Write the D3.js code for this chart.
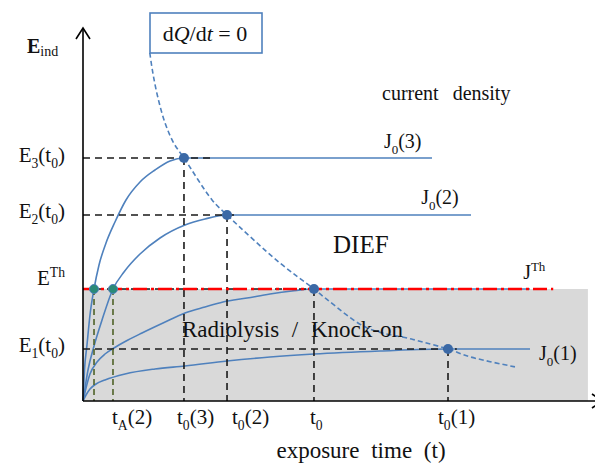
<!DOCTYPE html>
<html>
<head>
<meta charset="utf-8">
<script src="https://cdn.jsdelivr.net/npm/d3@7"></script>
<style>
  body { margin: 0; background: #fff; }
  svg { display: block; }
</style>
</head>
<body>
<div id="chart"></div>
<script>
// chart values (time and field in arbitrary units 0..100)
const eLevels = [65.5, 50.13, 30.19, 14.02];            // E3(t0), E2(t0), ETh, E1(t0)
const eLabels = ["E_{3}(t_{0})", "E_{2}(t_{0})", "E^{Th}", "E_{1}(t_{0})"];
const tTicks = [5.88, 19.8, 28.24, 45.29, 71.57];      // tA(2), t0(3), t0(2), t0, t0(1)
const tLabels = ["t_{A}(2)", "t_{0}(3)", "t_{0}(2)", "t_{0}", "t_{0}(1)"];
const eTh = 30.19;

// current density curves: [t, E]
const curveJ3 = [[0, 0], [0.29, 8.36], [0.78, 15.09], [1.37, 23.18], [2.16, 30.19], [3.14, 36.66], [4.51, 42.59], [6.27, 48.25], [8.43, 54.18], [11.18, 59.03], [14.12, 62.26], [17.06, 64.69], [19.8, 65.5], [68.43, 65.5]];
const curveJ2 = [[0, 0], [0.39, 3.5], [0.98, 8.36], [2.16, 14.82], [3.73, 21.83], [5.88, 30.19], [8.04, 34.77], [11.18, 39.62], [15.1, 43.94], [20.0, 47.44], [23.92, 49.06], [28.24, 50.13], [76.08, 50.13]];
const curveJTh = [[0, 0], [0.59, 3.5], [1.37, 7.28], [2.75, 10.51], [4.31, 12.67], [6.08, 14.29], [8.82, 16.44], [11.57, 18.33], [15.69, 21.02], [20.0, 23.72], [23.92, 25.34], [27.45, 26.68], [32.16, 27.76], [36.67, 28.84], [40.98, 29.65], [45.29, 30.19], [87.65, 30.19]];
const curveJ1 = [[0, 0], [0.59, 1.62], [1.37, 3.23], [2.55, 4.58], [4.31, 5.66], [8.24, 7.28], [14.12, 8.63], [20.0, 9.43], [28.24, 10.78], [36.67, 11.86], [45.29, 12.67], [58.24, 13.48], [71.57, 14.02], [87.65, 14.02]];
// dQ/dt = 0 locus
const curveDQ = [[13.1, 93.8], [13.7, 88.4], [14.7, 81.7], [16.1, 74.9], [17.8, 69.5], [19.8, 65.5], [25.3, 54.2], [28.24, 50.13], [38.6, 37.2], [45.29, 30.19], [48.0, 27.2], [55.7, 19.7], [64.7, 16.6], [71.57, 14.02], [75.9, 11.9], [84.7, 9.2]];

// intersection points
const blueDots = [[19.8, 65.5], [28.24, 50.13], [45.29, 30.19], [71.57, 14.02]];
const onsetDots = [[2.16, 30.19], [5.88, 30.19]];
// black guide lines: horizontal [tEnd, E], vertical [t, E]
const hGuides = [[25.7, 65.5], [30.2, 50.13], [45.29, 30.19], [73.3, 14.02]];
const vGuides = [[19.8, 65.5], [28.24, 50.13], [45.29, 30.19], [71.57, 14.02]];

const W = 595, H = 465;
const blue = "#4f81bd";
const serif = "Liberation Serif";

const x = d3.scaleLinear().domain([0, 100]).range([83, 593]);
const y = d3.scaleLinear().domain([0, 100]).range([401, 30]);

const svg = d3.select("#chart").append("svg")
  .attr("width", W).attr("height", H)
  .attr("font-family", serif);

// rich text: _{sub} and ^{sup}
function richText(t, str, size) {
  const parts = str.split(/(_\{[^}]*\}|\^\{[^}]*\})/).filter(s => s.length);
  let shift = 0;
  parts.forEach(p => {
    let fs = size, txt = p, target = 0;
    if (p.startsWith("_{")) { txt = p.slice(2, -1); fs = size * 0.65; target = size * 0.28; }
    else if (p.startsWith("^{")) { txt = p.slice(2, -1); fs = size * 0.65; target = -size * 0.4; }
    t.append("tspan").attr("font-size", fs).attr("dy", target - shift).text(txt);
    shift = target;
  });
}
function addText(x0, y0, size) {
  return svg.append("text").attr("x", x0).attr("y", y0)
    .attr("font-family", serif).attr("font-size", size).attr("fill", "#111");
}

// gray region below threshold
svg.append("rect")
  .attr("x", x(0)).attr("y", y(eTh))
  .attr("width", x(99) - x(0)).attr("height", y(0) - y(eTh))
  .attr("fill", "#d9d9d9");

// curves
const line = d3.line().x(d => x(d[0])).y(d => y(d[1])).curve(d3.curveMonotoneX);
[curveJ3, curveJ2, curveJTh, curveJ1].forEach(c => {
  svg.append("path").attr("d", line(c))
    .attr("fill", "none").attr("stroke", blue).attr("stroke-width", 1.6);
});

// black dashed guides
const guides = svg.append("g").attr("stroke", "#1a1a1a").attr("stroke-width", 1.6).attr("stroke-dasharray", "7,5");
hGuides.forEach(g => {
  guides.append("line").attr("x1", x(0)).attr("x2", x(g[0])).attr("y1", y(g[1])).attr("y2", y(g[1]));
});
vGuides.forEach(g => {
  guides.append("line").attr("x1", x(g[0])).attr("x2", x(g[0])).attr("y1", y(g[1])).attr("y2", y(0));
});
// onset guides (olive)
onsetDots.forEach(g => {
  svg.append("line").attr("x1", x(g[0])).attr("x2", x(g[0])).attr("y1", y(g[1])).attr("y2", y(0))
    .attr("stroke", "#4f6228").attr("stroke-width", 1.6).attr("stroke-dasharray", "6,4");
});

// dQ/dt = 0 locus
const dqLine = d3.line().x(d => x(d[0])).y(d => y(d[1])).curve(d3.curveCatmullRom);
svg.append("path").attr("d", dqLine(curveDQ))
  .attr("fill", "none").attr("stroke", blue).attr("stroke-width", 1.6).attr("stroke-dasharray", "5,3");

// threshold line (red dash-dot)
svg.append("line")
  .attr("x1", x(0)).attr("x2", x(92.2)).attr("y1", y(eTh)).attr("y2", y(eTh))
  .attr("stroke", "#ff0000").attr("stroke-width", 2.6).attr("stroke-dasharray", "14,4,3,4");

// dots
svg.selectAll(".bdot").data(blueDots).enter().append("circle")
  .attr("cx", d => x(d[0])).attr("cy", d => y(d[1])).attr("r", 5)
  .attr("fill", "#3b69a6");
svg.selectAll(".gdot").data(onsetDots).enter().append("circle")
  .attr("cx", d => x(d[0])).attr("cy", d => y(d[1])).attr("r", 4.5)
  .attr("fill", "#2a8a78").attr("stroke", blue).attr("stroke-width", 1);

// axes
svg.append("g").attr("transform", `translate(0,${y(0)})`)
  .call(d3.axisBottom(x).tickValues([]).tickSizeOuter(0))
  .call(g => g.select(".domain").attr("stroke", "#000").attr("stroke-width", 1.6).attr("d", `M${x(0)},0H${x(100) + 8}`));
svg.append("g").attr("transform", `translate(${x(0)},0)`)
  .call(d3.axisLeft(y).tickValues([]).tickSizeOuter(0))
  .call(g => g.select(".domain").attr("stroke", "#000").attr("stroke-width", 1.6).attr("d", `M0,${y(0)}V${y(100) - 2}`));
// arrow heads
svg.append("path").attr("d", `M${x(0) - 7},${y(100) + 9}L${x(0)},${y(100) - 2}L${x(0) + 7},${y(100) + 9}`)
  .attr("fill", "none").attr("stroke", "#000").attr("stroke-width", 1.6);
svg.append("path").attr("d", `M${x(100) - 1},${y(0) - 7}L${x(100) + 9},${y(0)}L${x(100) - 1},${y(0) + 7}`)
  .attr("fill", "none").attr("stroke", "#000").attr("stroke-width", 1.6);

// y labels
const yDy = [4, 3, -4, 3];
eLabels.forEach((s, i) => {
  const t = addText(65, y(eLevels[i]) + yDy[i], 21).attr("text-anchor", "end");
  richText(t, s, 21);
});

// x labels
const xDx = [-1, -7, 5, -4, -10];
tLabels.forEach((s, i) => {
  const t = addText(x(tTicks[i]) + xDx[i], 424, 21);
  richText(t, s, 21);
});

// axis titles
const eInd = addText(27, 53, 20);
eInd.append("tspan").attr("font-weight", "bold").text("E");
eInd.append("tspan").attr("font-size", 14).attr("dy", 3).text("ind");

addText(361, 458, 23).attr("text-anchor", "middle")
  .attr("word-spacing", 6).text("exposure time (t)");

// curve labels
const labels = [
  { s: "J_{0}(3)", t: 59.0, e: 68.2 },
  { s: "J_{0}(2)", t: 66.3, e: 53.0 },
  { s: "J^{Th}", t: 86.3, e: 33.0 },
  { s: "J_{0}(1)", t: 89.4, e: 11.0 }
];
labels.forEach(l => {
  richText(addText(x(l.t), y(l.e), 20), l.s, 20);
});

addText(382, 100, 20).attr("word-spacing", 9).text("current density");
addText(333, 253, 25).text("DIEF");
addText(182, 337, 23).attr("word-spacing", 7).text("Radiolysis / Knock-on");

// dQ/dt = 0 box
svg.append("rect").attr("x", 150).attr("y", 13).attr("width", 112).attr("height", 40)
  .attr("fill", "#fff").attr("stroke", blue).attr("stroke-width", 1.6);
const dq = addText(205, 41, 22).attr("text-anchor", "middle");
dq.append("tspan").text("d");
dq.append("tspan").attr("font-style", "italic").text("Q");
dq.append("tspan").text("/d");
dq.append("tspan").attr("font-style", "italic").text("t");
dq.append("tspan").text(" = 0");
</script>
</body>
</html>
